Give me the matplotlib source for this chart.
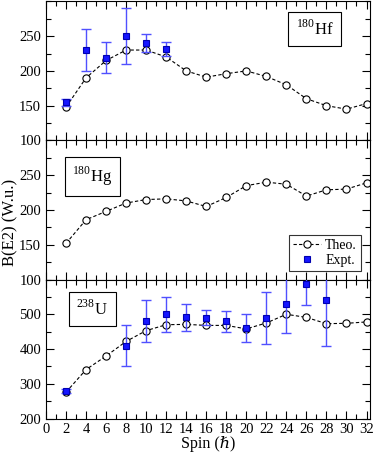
import matplotlib.pyplot as plt
from matplotlib.ticker import MultipleLocator
import numpy as np

plt.rcParams['font.family'] = ['Liberation Serif', 'DejaVu Serif']
plt.rcParams['mathtext.fontset'] = 'custom'
plt.rcParams['mathtext.rm'] = 'Liberation Serif'

spin = np.arange(2, 34, 2)

# theory values
hf_theo = [148, 190, 215, 230, 230, 220, 200, 191, 196, 200, 192, 180, 160, 150, 145, 153]
hg_theo = [152, 186, 198, 210, 215, 216, 213, 205, 218, 235, 240, 237, 220, 229, 230, 239]
u_theo = [276, 341, 380, 422, 453, 470, 471, 468, 468, 458, 475, 500, 491, 473, 474, 478]

# experimental values
hf_spin = [2, 4, 6, 8, 10, 12]
hf_exp = [155, 230, 219, 250, 240, 232]
hf_err = [5, 30, 22, 40, 13, 10]

u_spin = [2, 8, 10, 12, 14, 16, 18, 20, 22, 24, 26, 28]
u_exp = [280, 410, 480, 500, 491, 490, 480, 460, 490, 530, 586, 540]
u_err = [5, 60, 60, 50, 38, 21, 30, 40, 75, 85, 60, 130]

fig, axes = plt.subplots(3, 1, figsize=(3.74, 4.54), dpi=100, sharex=True)
fig.subplots_adjust(left=0.123, right=0.988, top=0.997, bottom=0.078, hspace=0)

def theo(ax, y, label=None):
    ax.plot(spin, y, '--', color='black', lw=0.8, dashes=(3, 2),
            marker='o', ms=5.2, mfc='white', mec='black', mew=0.8, label=label)

def expt(ax, x, y, e, label=None):
    ax.errorbar(x, y, yerr=e, fmt='none', ecolor='#5050ff', elinewidth=1.0,
                capsize=3.5, capthick=1.0, zorder=3)
    ax.plot(x, y, 's', color='#1515ff', mec='#0000b0', ms=4.3, mew=0.8, zorder=4,
            linestyle='none', label=label)

ax1, ax2, ax3 = axes
theo(ax1, hf_theo)
expt(ax1, hf_spin, hf_exp, hf_err)
theo(ax2, hg_theo, 'Theo.')
ax2.plot([], [], 's', color='#1515ff', mec='#0000b0', ms=4.3, mew=0.8,
         linestyle='none', label='Expt.')
theo(ax3, u_theo)
expt(ax3, u_spin, u_exp, u_err)

for ax in (ax1, ax2):
    ax.set_ylim(100, 300)
    ax.set_yticks([100, 150, 200, 250])
    ax.yaxis.set_minor_locator(MultipleLocator(25))
ax3.set_ylim(200, 600)
ax3.set_yticks([200, 300, 400, 500])
ax3.yaxis.set_minor_locator(MultipleLocator(50))

for ax in axes:
    ax.set_xlim(0, 32.3)
    ax.xaxis.set_major_locator(MultipleLocator(2))
    ax.xaxis.set_minor_locator(MultipleLocator(1))
    ax.tick_params(which='both', direction='in', top=True, right=True, labelsize=10.5)
    ax.tick_params(which='major', length=6, width=0.8)
    ax.tick_params(which='minor', length=3.5, width=0.8)

box = dict(boxstyle='square,pad=0.45', fc='white', ec='black', lw=0.8)
ax1.text(0.83, 0.8, r'$^{180}$Hf', transform=ax1.transAxes, fontsize=12,
         ha='center', va='center', bbox=box)
ax2.text(0.143, 0.74, r'$^{180}$Hg', transform=ax2.transAxes, fontsize=12,
         ha='center', va='center', bbox=box)
ax3.text(0.143, 0.79, r'$^{238}$U', transform=ax3.transAxes, fontsize=12,
         ha='center', va='center', bbox=box)

leg = ax2.legend(loc='lower right', fontsize=10, frameon=True, fancybox=False,
                 edgecolor='black', handlelength=2.0, borderpad=0.3,
                 labelspacing=0.15, handletextpad=0.3, borderaxespad=0.6)
leg.get_frame().set_linewidth(0.8)

ax3.set_xlabel('Spin (\u210f)', fontsize=11.5, labelpad=0)
fig.text(0.027, 0.51, 'B(E2) (W.u.)', rotation=90, fontsize=12, ha='center', va='center')

fig.savefig('out.png', dpi=100)
